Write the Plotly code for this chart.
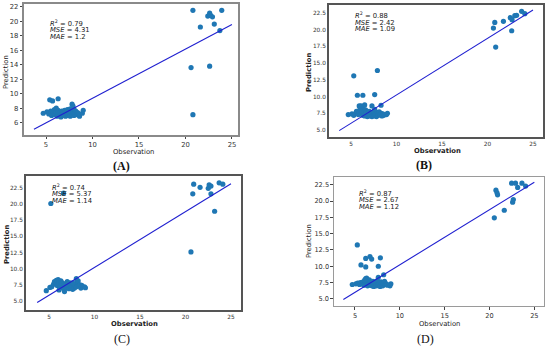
import plotly.graph_objects as go

# ---------------- data ----------------
obs_low = [4.7, 5.1, 5.3, 5.5, 5.6, 5.8, 5.9, 6.0, 6.1, 6.2,
           6.3, 6.3, 6.4, 6.5, 6.6, 6.6, 6.7, 6.8, 6.9, 7.0,
           7.0, 7.1, 7.2, 7.3, 7.3, 7.4, 7.5, 7.5, 7.6, 7.7,
           7.8, 7.9, 8.0, 8.0, 8.1, 8.2, 8.3, 8.4, 8.5, 8.6,
           8.9, 9.0, 6.1, 7.6]

pred_low_A = [7.3, 7.5, 7.2, 7.6, 7.0, 7.4, 7.8, 7.1, 7.5, 6.9,
              7.3, 7.7, 7.0, 7.4, 7.2, 6.8, 7.6, 7.1, 7.3, 7.0,
              7.7, 6.9, 7.4, 7.2, 7.8, 7.0, 7.3, 7.6, 6.9, 7.5,
              7.1, 7.4, 7.0, 7.9, 7.3, 7.6, 7.1, 7.4, 7.2, 6.9,
              7.3, 7.7, 8.0, 7.9]
pred_low_B = [7.3, 7.4, 7.2, 7.5, 7.8, 7.3, 7.6, 8.2, 7.4, 7.9,
              7.2, 8.4, 7.6, 7.1, 8.0, 7.3, 7.7, 7.0, 7.5, 7.2,
              7.8, 7.1, 7.4, 7.0, 7.6, 7.2, 7.5, 7.8, 7.1, 7.3,
              7.0, 7.6, 7.4, 7.2, 7.7, 7.3, 7.5, 7.1, 7.4, 7.2,
              7.3, 7.5, 8.6, 8.1]
pred_low_C = [6.6, 7.1, 7.2, 7.6, 8.0, 8.2, 7.4, 8.3, 7.8, 7.2,
              8.1, 7.5, 7.9, 7.0, 7.3, 7.7, 6.9, 7.5, 7.1, 8.0,
              7.3, 7.6, 6.9, 7.4, 7.8, 7.1, 7.5, 7.2, 6.8, 7.6,
              7.0, 7.4, 8.45, 7.2, 7.9, 8.1, 7.3, 7.5, 7.0, 7.4,
              7.2, 7.05, 6.7, 7.8]
pred_low_D = [7.2, 7.3, 7.4, 7.2, 7.5, 7.3, 7.6, 7.1, 7.8, 8.1,
              7.4, 8.2, 7.0, 7.6, 7.3, 7.9, 7.1, 7.5, 7.0, 7.3,
              7.7, 6.9, 7.4, 7.2, 7.6, 7.0, 7.5, 7.8, 7.1, 7.3,
              6.9, 7.6, 7.2, 7.5, 7.0, 7.4, 7.7, 7.2, 7.3, 7.1,
              7.0, 7.3, 7.9, 8.3]

obs_out_A = [5.4, 5.7, 6.3, 7.8, 7.9]
pred_out_A = [9.15, 9.0, 9.3, 8.55, 8.3]
obs_out_B = [5.3, 7.9, 5.7, 6.3, 7.6, 8.3, 7.3, 5.9, 6.5]
pred_out_B = [13.1, 13.9, 10.2, 10.2, 10.3, 8.7, 8.6, 8.6, 8.75]
obs_out_C = [5.2, 6.6, 6.7]
pred_out_C = [20.1, 21.7, 6.45]
obs_out_D = [5.26, 5.67, 6.2, 6.67, 6.86, 7.83, 6.2, 7.6, 8.2]
pred_out_D = [13.27, 10.2, 11.2, 11.5, 11.1, 11.3, 9.9, 10.0, 8.7]

obs_hi_A = [20.6, 20.8, 20.8, 21.6, 22.4, 22.6, 22.7, 22.9, 22.6, 23.1, 23.7, 23.9]
pred_hi_A = [13.6, 7.1, 21.5, 19.2, 20.7, 21.1, 20.8, 20.6, 13.8, 19.6, 18.7, 21.5]
obs_hi_B = [20.65, 20.8, 20.9, 21.75, 22.5, 22.7, 22.66, 23.0, 23.2, 23.75, 24.1]
pred_hi_B = [20.25, 21.1, 17.4, 21.25, 21.8, 21.5, 19.85, 22.1, 22.15, 22.75, 22.4]
obs_hi_C = [20.6, 20.8, 20.9, 21.6, 22.5, 22.6, 22.8, 22.8, 23.2, 23.7, 24.1]
pred_hi_C = [12.6, 21.6, 23.1, 22.6, 22.45, 23.0, 22.8, 21.6, 18.9, 23.3, 23.1]
obs_hi_D = [20.54, 20.72, 20.84, 20.9, 21.65, 22.47, 22.9, 22.58, 22.66, 23.14, 23.62, 24.03]
pred_hi_D = [17.43, 21.68, 21.27, 20.96, 18.6, 22.75, 22.75, 19.84, 20.25, 22.1, 22.75, 22.3]

line_x = [3.7, 25.0]
line_A = [5.1, 19.55]
line_B = [4.9, 22.95]
line_C = [4.75, 23.15]
line_D = [4.9, 22.9]

metrics = {
    "A": ["0.79", "4.31", "1.2"],
    "B": ["0.88", "2.42", "1.09"],
    "C": ["0.74", "5.37", "1.14"],
    "D": ["0.87", "2.67", "1.12"],
}
yticks_A = [6, 8, 10, 12, 14, 16, 18, 20, 22]
yticks_BCD = [5.0, 7.5, 10.0, 12.5, 15.0, 17.5, 20.0, 22.5]
xticks = [5, 10, 15, 20, 25]

# ---------------- layout geometry (pixels of the 550x346 page) ----------------
W, H = 550, 346
def px(x):
    return x / W
def py(y):
    return 1 - y / H

panels = {
    "A": dict(box=(24, 238, 4, 135), xr=[2.63, 25.65], yr=[4.3, 22.37], bold=False, tf=6.8,
              fc="#8a8a8a", fw=1.5, ticks="outside", yt=yticks_A, ytt=[str(v) for v in yticks_A],
              obs=obs_low + obs_out_A + obs_hi_A, pred=pred_low_A + pred_out_A + pred_hi_A, line=line_A,
              mx=48, my=[23, 30, 37], xt=(133, 151.5), yt_pos=(6, 72), lab=(121, 166), labbold=True),
    "B": dict(box=(329, 543, 5, 137), xr=[2.58, 26.1], yr=[3.95, 23.7], bold=True, tf=5.8,
              fc="#555555", fw=2, ticks="", yt=yticks_BCD, ytt=["%.1f" % v for v in yticks_BCD],
              obs=obs_low + obs_out_B + obs_hi_B, pred=pred_low_B + pred_out_B + pred_hi_B, line=line_B,
              mx=353, my=[16, 23, 29.5], xt=(437, 150.5), yt_pos=(309, 73), lab=(424, 165), labbold=True),
    "C": dict(box=(26, 241, 176, 310), xr=[2.47, 26.1], yr=[3.6, 24.36], bold=True, tf=5.8,
              fc="#555555", fw=2, ticks="", yt=yticks_BCD, ytt=["%.1f" % v for v in yticks_BCD],
              obs=obs_low + obs_out_C + obs_hi_C, pred=pred_low_C + pred_out_C + pred_hi_C, line=line_C,
              mx=50, my=[187, 194, 200.5], xt=(134, 323.5), yt_pos=(7, 245), lab=(122, 339), labbold=False),
    "D": dict(box=(334, 544, 177, 306), xr=[2.66, 26.08], yr=[3.9, 23.7], bold=False, tf=6.6,
              fc="#9a9a9a", fw=1.2, ticks="outside", yt=yticks_BCD, ytt=["%.1f" % v for v in yticks_BCD],
              obs=obs_low + obs_out_D + obs_hi_D, pred=pred_low_D + pred_out_D + pred_hi_D, line=line_D,
              mx=357, my=[193, 200, 206.5], xt=(439, 323.5), yt_pos=(309, 241), lab=(425, 339), labbold=False),
}

fig = go.Figure()
annotations = []
layout = dict(
    width=W, height=H, margin=dict(l=0, r=0, t=0, b=0),
    paper_bgcolor="white", plot_bgcolor="white", showlegend=False,
    font=dict(family="DejaVu Sans", color="#333333"),
)

FONT = "DejaVu Sans"
for i, (name, p) in enumerate(panels.items()):
    n = "" if i == 0 else str(i + 1)
    xa, ya = "x" + n, "y" + n
    x0, x1, yt0, yb1 = p["box"]
    common = dict(showgrid=False, zeroline=False, showline=True, mirror=True,
                  linecolor=p["fc"], linewidth=p["fw"], ticks=p["ticks"], ticklen=2.5,
                  tickwidth=0.8, tickcolor="#444444",
                  tickfont=dict(family=FONT, size=p["tf"], color="#333333"))
    layout["xaxis" + n] = dict(domain=[px(x0), px(x1)], range=p["xr"], anchor=ya,
                               tickvals=xticks, ticktext=[str(v) for v in xticks], **common)
    layout["yaxis" + n] = dict(domain=[py(yb1), py(yt0)], range=p["yr"], anchor=xa,
                               tickvals=p["yt"], ticktext=p["ytt"], **common)

    fig.add_trace(go.Scatter(x=p["obs"], y=p["pred"], mode="markers", xaxis=xa, yaxis=ya,
                             marker=dict(color="#1f77b4", size=5.2, line=dict(width=0)),
                             cliponaxis=False))
    fig.add_trace(go.Scatter(x=line_x, y=p["line"], mode="lines", xaxis=xa, yaxis=ya,
                             line=dict(color="#2020d0", width=1.1)))

    r2, mse, mae = metrics[name]
    lines = ["<i>R</i><sup>2</sup> = " + r2, "<i>MSE</i> = " + mse, "<i>MAE</i> = " + mae]
    for txt, yy in zip(lines, p["my"]):
        annotations.append(dict(text=txt, x=px(p["mx"]), y=py(yy), xref="paper", yref="paper",
                                xanchor="left", yanchor="middle", showarrow=False,
                                font=dict(family=FONT, size=6.8, color="#222222")))
    tw = "<b>%s</b>" if p["bold"] else "%s"
    annotations.append(dict(text=tw % "Observation", x=px(p["xt"][0]), y=py(p["xt"][1]),
                            xref="paper", yref="paper", xanchor="center", yanchor="middle",
                            showarrow=False, font=dict(family=FONT, size=6.8, color="#222222")))
    annotations.append(dict(text=tw % "Prediction", x=px(p["yt_pos"][0]), y=py(p["yt_pos"][1]),
                            xref="paper", yref="paper", xanchor="center", yanchor="middle",
                            textangle=-90, showarrow=False,
                            font=dict(family=FONT, size=6.8, color="#222222")))
    lw = "<b>(%s)</b>" if p["labbold"] else "(%s)"
    annotations.append(dict(text=lw % name, x=px(p["lab"][0]), y=py(p["lab"][1]),
                            xref="paper", yref="paper", xanchor="center", yanchor="middle",
                            showarrow=False, font=dict(family="Liberation Serif", size=12, color="#111111")))

layout["annotations"] = annotations
fig.update_layout(**layout)
fig.write_html("out.html", config={"displayModeBar": False},
               post_script="document.body.style.margin='0px';document.body.style.overflow='hidden';")
